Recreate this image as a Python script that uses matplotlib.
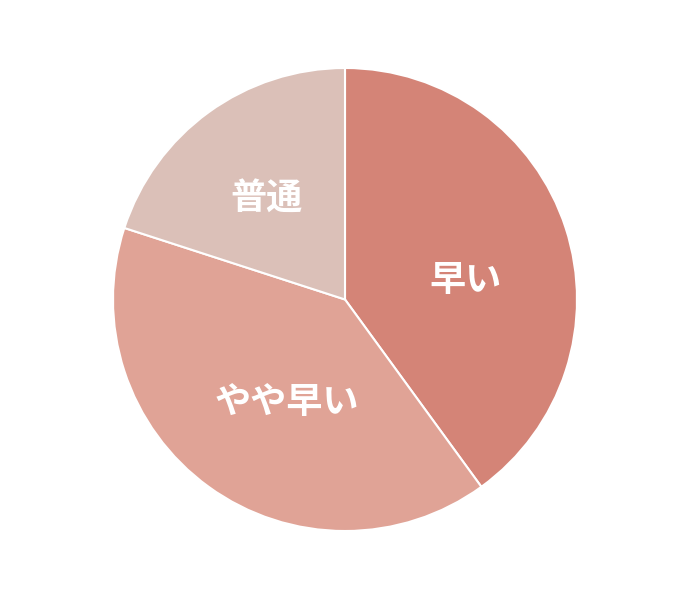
import matplotlib.pyplot as plt

plt.rcParams['font.family'] = ['Noto Sans CJK JP', 'DejaVu Sans']

labels = ["早い", "やや早い", "普通"]
values = [40, 40, 20]
colors = ["#D48477", "#E0A396", "#DBC0B8"]

# label centres, in units of the pie radius
label_pos = [(0.52, 0.08), (-0.25, -0.445), (-0.34, 0.432)]

fig = plt.figure(figsize=(6.95, 5.99), dpi=100)
ax = fig.add_axes([113 / 695, 68 / 599, 464 / 695, 463 / 599])

wedges, texts = ax.pie(values, labels=labels, colors=colors, startangle=90,
                       counterclock=False, labeldistance=0.53,
                       wedgeprops=dict(edgecolor="white", linewidth=1.5),
                       textprops=dict(color="white", fontsize=26, fontweight="bold"))
for t, pos in zip(texts, label_pos):
    t.set_position(pos)
    t.set_horizontalalignment("center")
    t.set_verticalalignment("center")

ax.set_xlim(-1, 1)
ax.set_ylim(-1, 1)
ax.set_aspect("auto")

fig.savefig("out.png", dpi=100, facecolor="white")
